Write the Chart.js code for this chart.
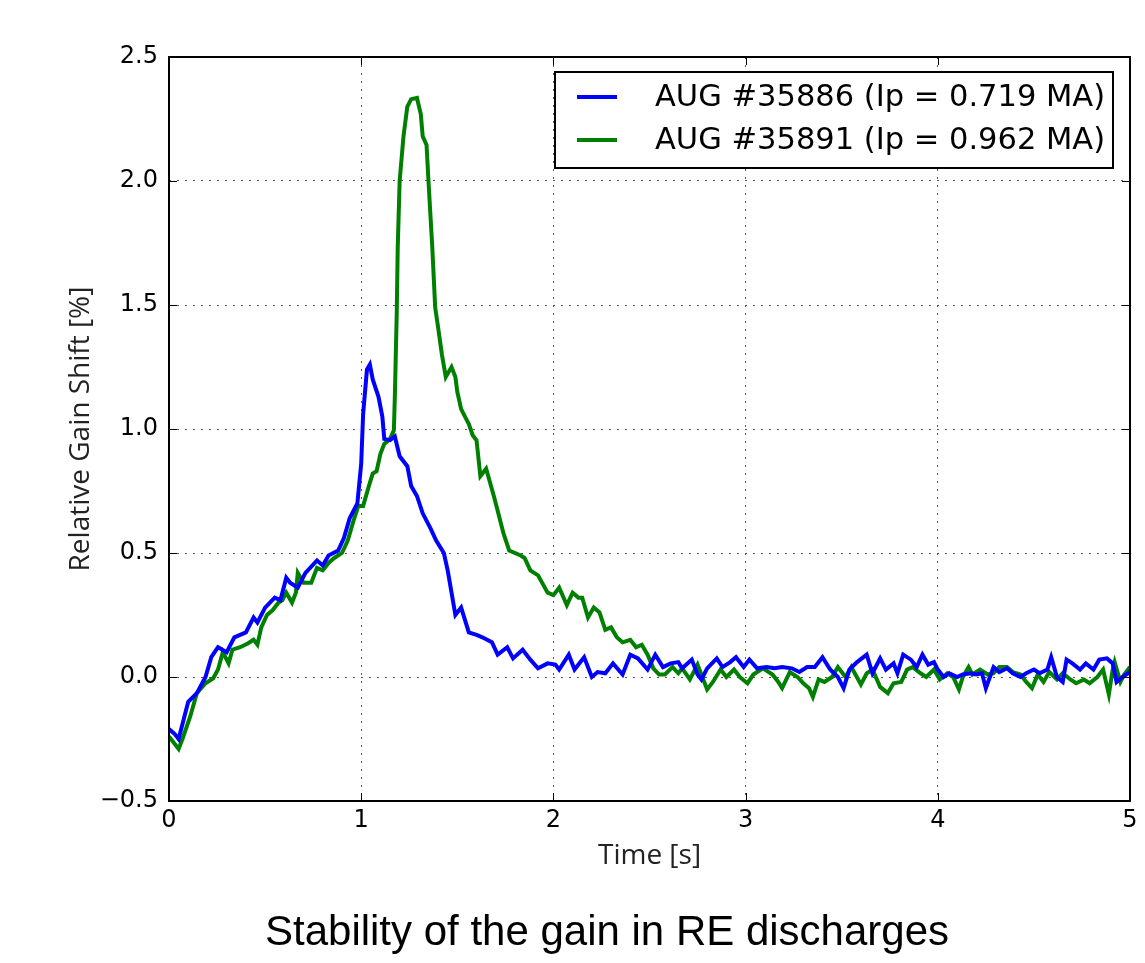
<!DOCTYPE html>
<html>
<head>
<meta charset="utf-8">
<script src="https://cdn.jsdelivr.net/npm/chart.js@4.4.0/dist/chart.umd.min.js"></script>
<style>
  html, body { margin: 0; padding: 0; background: #fff; }
  #wrap { width: 1145px; height: 963px; }
</style>
</head>
<body>
<div id="wrap"><canvas id="chart" width="1145" height="963"></canvas></div>
<script>
// AUG #35886 (blue)
const timeBlue = [0.00, 0.03, 0.05, 0.10, 0.145, 0.19, 0.22, 0.255, 0.30, 0.34, 0.40, 0.44, 0.46, 0.50, 0.55, 0.58, 0.61, 0.63, 0.67, 0.71, 0.77, 0.80, 0.83, 0.88, 0.91, 0.94, 0.98,
  1.00, 1.01, 1.03, 1.045, 1.06, 1.09, 1.11, 1.12, 1.15, 1.175, 1.20, 1.24, 1.26, 1.29, 1.32, 1.36, 1.39, 1.43, 1.45, 1.47, 1.49, 1.52, 1.56, 1.60, 1.63, 1.68, 1.71, 1.76, 1.79, 1.84, 1.88, 1.92, 1.97,
  2.01, 2.03, 2.08, 2.11, 2.16, 2.20, 2.23, 2.27, 2.31, 2.36, 2.40, 2.44, 2.49, 2.53, 2.57, 2.61, 2.65, 2.67, 2.72, 2.75, 2.77, 2.80, 2.85, 2.88, 2.92, 2.95, 2.99,
  3.02, 3.06, 3.11, 3.15, 3.19, 3.24, 3.28, 3.32, 3.36, 3.40, 3.44, 3.48, 3.51, 3.54, 3.58, 3.63, 3.66, 3.70, 3.73, 3.77, 3.79, 3.82, 3.86, 3.89, 3.92, 3.95, 3.98,
  4.00, 4.03, 4.06, 4.10, 4.13, 4.17, 4.20, 4.23, 4.25, 4.29, 4.32, 4.36, 4.39, 4.43, 4.46, 4.50, 4.53, 4.57, 4.59, 4.62, 4.65, 4.67, 4.70, 4.74, 4.77, 4.81, 4.84, 4.88, 4.91, 4.93, 4.96, 4.99, 5.00];
const gainBlue = [-0.21, -0.23, -0.25, -0.10, -0.065, 0.00, 0.08, 0.12, 0.10, 0.16, 0.18, 0.24, 0.22, 0.28, 0.32, 0.31, 0.40, 0.38, 0.36, 0.42, 0.47, 0.45, 0.49, 0.51, 0.56, 0.64, 0.70,
  0.86, 1.06, 1.24, 1.26, 1.20, 1.13, 1.05, 0.96, 0.955, 0.97, 0.89, 0.85, 0.77, 0.73, 0.66, 0.60, 0.55, 0.50, 0.43, 0.34, 0.25, 0.28, 0.18, 0.17, 0.16, 0.14, 0.09, 0.12, 0.075, 0.11, 0.07, 0.035, 0.055,
  0.05, 0.03, 0.09, 0.03, 0.08, 0.00, 0.02, 0.015, 0.055, 0.01, 0.09, 0.075, 0.03, 0.09, 0.04, 0.055, 0.06, 0.035, 0.07, 0.01, -0.01, 0.035, 0.075, 0.04, 0.06, 0.08, 0.04,
  0.07, 0.035, 0.04, 0.035, 0.04, 0.035, 0.02, 0.04, 0.04, 0.08, 0.03, 0.00, -0.045, 0.03, 0.06, 0.09, 0.015, 0.075, 0.03, 0.055, 0.015, 0.09, 0.07, 0.04, 0.09, 0.05, 0.06,
  0.03, 0.00, 0.015, 0.00, 0.01, 0.015, 0.01, 0.015, -0.045, 0.04, 0.02, 0.035, 0.015, 0.00, 0.015, 0.03, 0.015, 0.03, 0.08, 0.00, -0.02, 0.07, 0.055, 0.03, 0.055, 0.03, 0.07, 0.075, 0.055, -0.02, 0.00, 0.015, 0.02];

// AUG #35891 (green)
const timeGreen = [0.00, 0.05, 0.07, 0.11, 0.145, 0.19, 0.23, 0.255, 0.28, 0.31, 0.33, 0.37, 0.41, 0.44, 0.46, 0.48, 0.51, 0.54, 0.57, 0.59, 0.61, 0.64, 0.66, 0.67, 0.70, 0.74, 0.77, 0.80, 0.83, 0.86, 0.90, 0.93, 0.96, 0.985,
  1.01, 1.04, 1.06, 1.08, 1.10, 1.12, 1.15, 1.17, 1.175, 1.185, 1.19, 1.20, 1.22, 1.24, 1.26, 1.29, 1.31, 1.32, 1.34, 1.35, 1.37, 1.385, 1.40, 1.42, 1.44, 1.47, 1.49, 1.50, 1.52, 1.54, 1.56, 1.58, 1.60, 1.62, 1.65, 1.69, 1.71, 1.74, 1.77, 1.83, 1.85, 1.88, 1.92, 1.97,
  2.00, 2.03, 2.07, 2.10, 2.13, 2.15, 2.18, 2.21, 2.24, 2.27, 2.30, 2.33, 2.36, 2.40, 2.43, 2.46, 2.49, 2.52, 2.55, 2.58, 2.62, 2.65, 2.67, 2.71, 2.75, 2.80, 2.83, 2.87, 2.90, 2.94, 2.97,
  3.01, 3.04, 3.09, 3.14, 3.17, 3.19, 3.23, 3.27, 3.30, 3.33, 3.35, 3.38, 3.41, 3.45, 3.48, 3.52, 3.55, 3.60, 3.63, 3.66, 3.70, 3.74, 3.77, 3.81, 3.84, 3.87, 3.91, 3.94, 3.98,
  4.01, 4.05, 4.08, 4.11, 4.13, 4.16, 4.18, 4.22, 4.26, 4.29, 4.32, 4.36, 4.39, 4.43, 4.46, 4.49, 4.52, 4.55, 4.58, 4.62, 4.65, 4.69, 4.72, 4.76, 4.79, 4.83, 4.86, 4.89, 4.91, 4.92, 4.95, 4.97, 5.00];
const gainGreen = [-0.24, -0.29, -0.25, -0.16, -0.065, -0.025, -0.005, 0.03, 0.10, 0.055, 0.11, 0.12, 0.135, 0.15, 0.13, 0.20, 0.25, 0.27, 0.30, 0.31, 0.34, 0.30, 0.34, 0.42, 0.38, 0.38, 0.44, 0.43, 0.46, 0.48, 0.50, 0.55, 0.63, 0.69,
  0.69, 0.77, 0.82, 0.83, 0.90, 0.94, 0.96, 0.995, 1.13, 1.47, 1.73, 2.00, 2.18, 2.30, 2.33, 2.335, 2.27, 2.18, 2.145, 2.00, 1.73, 1.49, 1.41, 1.30, 1.21, 1.25, 1.21, 1.15, 1.08, 1.05, 1.02, 0.975, 0.955, 0.81, 0.84, 0.73, 0.67, 0.58, 0.51, 0.49, 0.48, 0.43, 0.41, 0.34,
  0.33, 0.36, 0.29, 0.34, 0.32, 0.32, 0.24, 0.28, 0.26, 0.19, 0.20, 0.16, 0.14, 0.15, 0.12, 0.13, 0.09, 0.035, 0.01, 0.01, 0.04, 0.015, 0.035, -0.01, 0.05, -0.05, -0.02, 0.03, 0.00, 0.03, 0.00,
  -0.025, 0.01, 0.035, 0.01, -0.02, -0.045, 0.02, 0.00, -0.025, -0.045, -0.08, -0.01, -0.02, 0.00, 0.04, 0.00, 0.04, -0.03, 0.015, 0.03, -0.04, -0.065, -0.025, -0.02, 0.03, 0.04, 0.015, 0.00, 0.03,
  -0.01, 0.015, 0.00, -0.05, 0.00, 0.04, 0.01, 0.03, 0.01, 0.015, 0.04, 0.04, 0.02, 0.01, -0.02, -0.045, 0.01, -0.02, 0.02, -0.01, 0.015, -0.01, -0.025, -0.01, -0.025, 0.00, 0.03, -0.07, 0.03, 0.06, -0.02, 0.01, 0.04];

const seriesLabels = ["AUG #35886 (Ip = 0.719 MA)", "AUG #35891 (Ip = 0.962 MA)"];
const seriesColors = ["#0000ff", "#008000"];
const xTitle = "Time [s]";
const yTitle = "Relative Gain Shift [%]";
const caption = "Stability of the gain in RE discharges";

const toPoints = (ts, vs) => ts.map((t, i) => ({ x: t, y: vs[i] }));

// box around the axes with inward ticks, like matplotlib
const framePlugin = {
  id: "frame",
  afterDatasetsDraw(chart) {
    const { ctx, chartArea: a, scales } = chart;
    ctx.save();
    ctx.strokeStyle = "#000";
    ctx.lineWidth = 1;
    scales.x.ticks.forEach((t) => {
      const px = Math.round(scales.x.getPixelForValue(t.value)) + 0.5;
      ctx.beginPath();
      ctx.moveTo(px, a.bottom); ctx.lineTo(px, a.bottom - 8);
      ctx.moveTo(px, a.top); ctx.lineTo(px, a.top + 8);
      ctx.stroke();
    });
    scales.y.ticks.forEach((t) => {
      const py = Math.round(scales.y.getPixelForValue(t.value)) + 0.5;
      ctx.beginPath();
      ctx.moveTo(a.left, py); ctx.lineTo(a.left + 8, py);
      ctx.moveTo(a.right, py); ctx.lineTo(a.right - 8, py);
      ctx.stroke();
    });
    ctx.lineWidth = 2;
    ctx.strokeRect(a.left, a.top, a.right - a.left, a.bottom - a.top);
    ctx.restore();
  },
};

// legend box in the upper right corner of the axes
const legendPlugin = {
  id: "boxLegend",
  afterDraw(chart) {
    const { ctx, chartArea: a } = chart;
    const right = a.right - 17, top = a.top + 15;
    const w = 558, h = 96;
    const left = right - w;
    ctx.save();
    ctx.fillStyle = "#fff";
    ctx.fillRect(left, top, w, h);
    ctx.strokeStyle = "#000";
    ctx.lineWidth = 2;
    ctx.strokeRect(left, top, w, h);
    ctx.font = "30.5px 'DejaVu Sans'";
    ctx.textBaseline = "middle";
    chart.data.datasets.forEach((ds, i) => {
      const y = top + 25 + i * 43;
      ctx.strokeStyle = ds.borderColor;
      ctx.lineWidth = 4;
      ctx.beginPath();
      ctx.moveTo(left + 22, y);
      ctx.lineTo(left + 62, y);
      ctx.stroke();
      ctx.fillStyle = "#000";
      ctx.fillText(ds.label, left + 100, y + 1);
    });
    ctx.restore();
  },
};

// figure caption under the plot
const captionPlugin = {
  id: "caption",
  afterDraw(chart) {
    const { ctx } = chart;
    ctx.save();
    ctx.font = "42px 'Liberation Sans', Arial";
    ctx.fillStyle = "#000";
    ctx.textAlign = "center";
    ctx.textBaseline = "alphabetic";
    ctx.fillText(caption, 607, 945);
    ctx.restore();
  },
};

const tickFont = { family: "'DejaVu Sans'", size: 24 };
const titleFont = { family: "'Open Sans'", size: 28 };

new Chart(document.getElementById("chart"), {
  type: "line",
  data: {
    datasets: [
      { label: seriesLabels[0], data: toPoints(timeBlue, gainBlue), borderColor: seriesColors[0], borderWidth: 4, pointRadius: 0, tension: 0 },
      { label: seriesLabels[1], data: toPoints(timeGreen, gainGreen), borderColor: seriesColors[1], borderWidth: 4, pointRadius: 0, tension: 0 },
    ],
  },
  options: {
    responsive: false,
    animation: false,
    layout: { padding: { left: 0, right: 15, top: 57, bottom: 72 } },
    plugins: {
      legend: { display: false },
      tooltip: { enabled: false },
      title: { display: false },
    },
    scales: {
      x: {
        type: "linear",
        min: 0,
        max: 5,
        afterFit(scale) { scale.height = 90; },
        ticks: { stepSize: 1, color: "#000", font: tickFont, padding: 5, maxRotation: 0 },
        grid: { color: "#555", lineWidth: 1, drawTicks: false },
        border: { display: false, dash: [2, 6] },
        title: { display: true, text: xTitle, color: "#222", font: titleFont, padding: { top: 0, bottom: 18 } },
      },
      y: {
        min: -0.5,
        max: 2.5,
        afterFit(scale) { scale.width = 169; },
        ticks: {
          stepSize: 0.5,
          color: "#000",
          font: tickFont,
          padding: 11,
          callback: (v) => (v < 0 ? "\u2212" + Math.abs(v).toFixed(1) : v.toFixed(1)),
        },
        grid: { color: "#555", lineWidth: 1, drawTicks: false },
        border: { display: false, dash: [2, 6] },
        title: { display: true, text: yTitle, color: "#222", font: titleFont, padding: { top: 64, bottom: 0 } },
      },
    },
  },
  plugins: [framePlugin, legendPlugin, captionPlugin],
});
</script>
</body>
</html>
